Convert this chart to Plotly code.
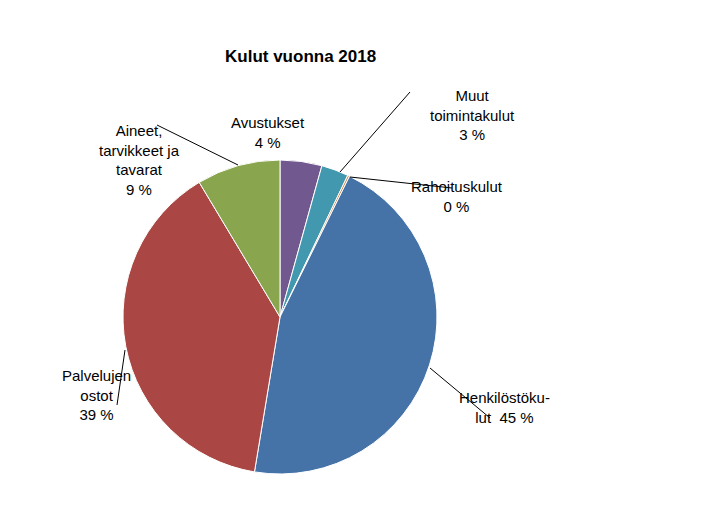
import plotly.graph_objects as go

labels = ["Avustukset", "Muut toimintakulut", "Rahoituskulut", "Henkilöstökulut", "Palvelujen ostot", "Aineet, tarvikkeet ja tavarat"]
values = [4.3, 2.8, 0.2, 45.3, 38.8, 8.6]
colors = ["#71588F", "#4198AF", "#DB843D", "#4572A7", "#AA4643", "#89A54E"]
label_texts = ["Avustukset<br>4 %", "Muut<br>toimintakulut<br>3 %", "Rahoituskulut<br>0 %",
               "Henkilöstöku-<br>lut  45 %", "Palvelujen<br>ostot<br>39 %", "Aineet,<br>tarvikkeet ja<br>tavarat<br>9 %"]
label_pos = [(268, 112), (472, 85), (505, 197), (552, 428), (60, 425), (97, 120)]
leaders = [None, ((410, 92), (340, 172)), ((452, 188), (350, 177)), ((490, 418), (430, 368)),
           ((117, 405), (125, 350)), ((157, 125), (238, 165))]

W, H = 722, 506
OFF = 8
FW, FH = W - 2 * OFF, H - 2 * OFF
px = lambda x: (x - OFF) / FW
py = lambda y: 1 - (y - OFF) / FH

fig = go.Figure(go.Pie(
    labels=labels, values=values, sort=False, direction="clockwise", rotation=0,
    marker=dict(colors=colors, line=dict(color="white", width=1)),
    textinfo="none", hoverinfo="label+percent",
    domain=dict(x=[px(123), px(437)], y=[py(474), py(160)]),
))

annotations = [dict(text="<b>Kulut vuonna 2018</b>", x=px(300), y=py(45), xref="paper", yref="paper",
                    showarrow=False, font=dict(size=17, color="black"))]
for t, (x, y) in zip(label_texts, label_pos):
    annotations.append(dict(text=t, x=px(x), y=py(y), xref="paper", yref="paper", showarrow=False,
                            font=dict(size=15, color="black"), align="center"))
shapes = [dict(type="rect", xref="paper", yref="paper", x0=px(1), y0=py(H - 1), x1=px(W - 1), y1=py(1),
               line=dict(color="#868686", width=2))]
for l in leaders:
    if l:
        (x0, y0), (x1, y1) = l
        shapes.append(dict(type="line", xref="paper", yref="paper", x0=px(x0), y0=py(y0),
                           x1=px(x1), y1=py(y1), line=dict(color="black", width=1)))

fig.update_layout(width=FW, height=FH, margin=dict(l=0, r=0, t=0, b=0), showlegend=False,
                  paper_bgcolor="white", font=dict(family="Liberation Sans, Arial"),
                  annotations=annotations, shapes=shapes)
fig.write_html("out.html")
